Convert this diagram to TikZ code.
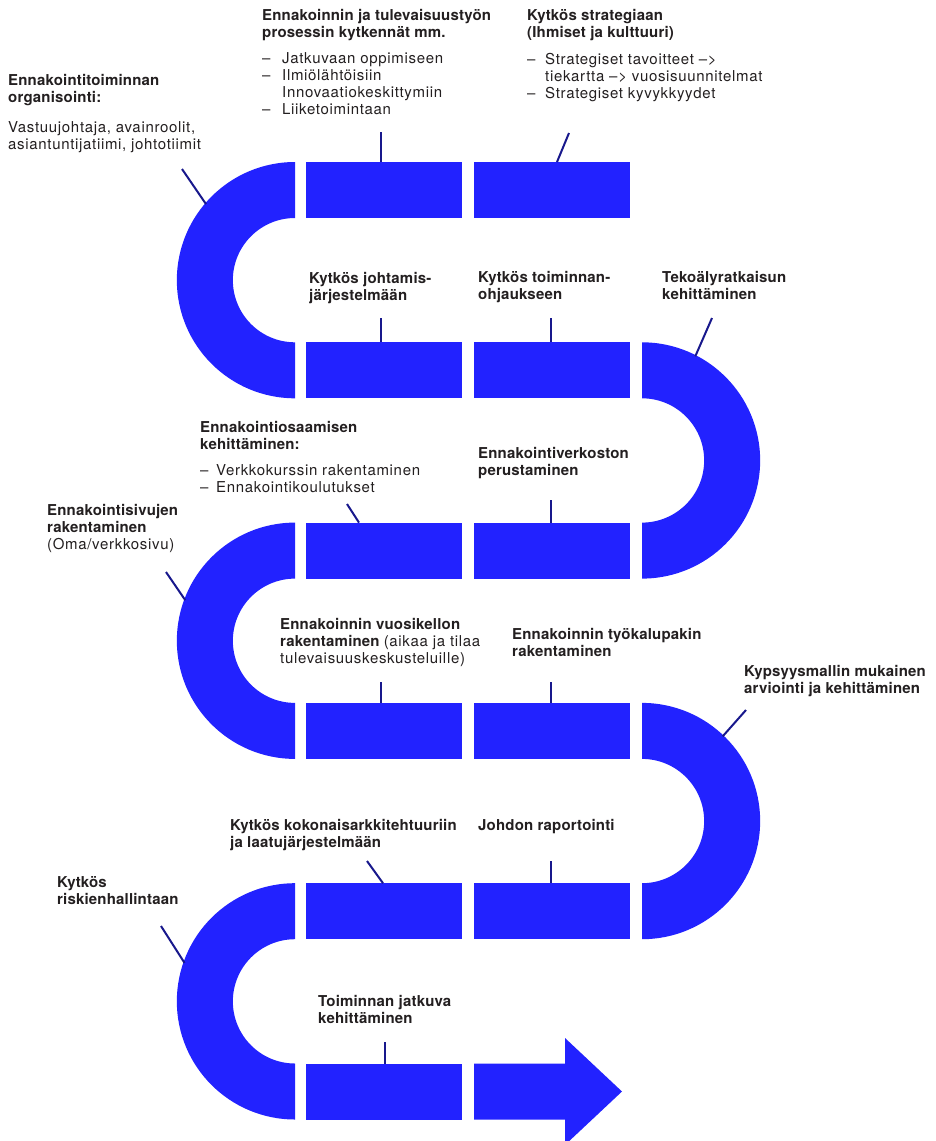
\documentclass[tikz,border=0pt]{standalone}
\usepackage{fontspec}
\usetikzlibrary{calc}
\setmainfont{TeX Gyre Heros}
\newfontfamily\headfam[LetterSpace=1.2]{TeX Gyre Heros}
\newfontfamily\bodyfam[LetterSpace=4.5]{TeX Gyre Heros}
\newcommand\hd[1]{{\fontsize{15}{17}\selectfont\headfam\bfseries #1}}
\newcommand\bd[1]{{\fontsize{15}{17}\selectfont\bodyfam #1}}
\newcommand\itm[2][18pt]{\makebox[#1][l]{–}#2}
\newcommand\fs{\rule{0pt}{12pt}}
\definecolor{bandblue}{RGB}{34,34,255}
\definecolor{tickblue}{RGB}{24,24,140}
\definecolor{ink}{RGB}{35,31,32}
\begin{document}
\begin{tikzpicture}[x=1pt,y=1pt,
  band/.style={fill=bandblue},
  seg/.style={band, draw=none, minimum width=156pt, minimum height=56pt, inner sep=0pt, outer sep=0pt, anchor=north west},
  tick/.style={draw=tickblue, line width=2pt},
  lbl/.style={anchor=north west, inner sep=0pt, align=left, text=ink, font=\fontsize{15}{17}\selectfont}]
\useasboundingbox (0,0) rectangle (936,-1141);

% centres of the five turns
\coordinate (L1c) at (295,-280.15);
\coordinate (R1c) at (642,-460.45);
\coordinate (L2c) at (295,-640.75);
\coordinate (R2c) at (642,-821.05);
\coordinate (L3c) at (295,-1001.35);

% left-hand turns
\foreach \c in {L1c,L2c,L3c}
  \fill[band] ($(\c)+(0,118.15)$) arc[start angle=90,end angle=270,radius=118.15]
    -- ++(0,56) arc[start angle=270,end angle=90,radius=62.15] -- cycle;
% right-hand turns
\foreach \c in {R1c,R2c}
  \fill[band] ($(\c)+(0,118.15)$) arc[start angle=90,end angle=-90,radius=118.15]
    -- ++(0,56) arc[start angle=-90,end angle=90,radius=62.15] -- cycle;

% straight segments
\node[seg] (s11) at (306,-162) {};
\node[seg] (s12) at (474,-162) {};
\node[seg] (s21) at (306,-342.3) {};
\node[seg] (s22) at (474,-342.3) {};
\node[seg] (s31) at (306,-522.6) {};
\node[seg] (s32) at (474,-522.6) {};
\node[seg] (s41) at (306,-702.9) {};
\node[seg] (s42) at (474,-702.9) {};
\node[seg] (s51) at (306,-883.2) {};
\node[seg] (s52) at (474,-883.2) {};
\node[seg] (s61) at (306,-1063.5) {};

% closing arrow
\fill[band] (474,-1063.5) -- (565,-1063.5) -- (565,-1038) -- (622,-1091.5)
  -- (565,-1145) -- (565,-1119.5) -- (474,-1119.5) -- cycle;

% labels
\node[lbl] (n1) at (8,-73) {\hd{\fs Ennakointitoiminnan}\\ \hd{organisointi:}\\[13pt]
  \bd{Vastuujohtaja, avainroolit,}\\ \bd{asiantuntijatiimi, johtotiimit}};
\node[lbl] (n2) at (262,-8) {\hd{\fs Ennakoinnin ja tulevaisuustyön}\\ \hd{prosessin kytkennät mm.}\\[9pt]
  \bd{\itm[20pt]{Jatkuvaan oppimiseen}}\\ \bd{\itm[20pt]{Ilmiölähtöisiin}}\\
  \bd{\hspace*{20pt}Innovaatiokeskittymiin}\\ \bd{\itm[20pt]{Liiketoimintaan}}};
\node[lbl] (n3) at (527,-8) {\hd{\fs Kytkös strategiaan}\\ \hd{(Ihmiset ja kulttuuri)}\\[10pt]
  \bd{\itm{Strategiset tavoitteet –>}}\\ \bd{\hspace*{18pt}tiekartta –> vuosisuunnitelmat}\\
  \bd{\itm{Strategiset kyvykkyydet}}};
\node[lbl] (n4) at (309,-271) {\hd{\fs Kytkös johtamis-}\\ \hd{järjestelmään}};
\node[lbl] (n5) at (478,-270) {\hd{\fs Kytkös toiminnan-}\\ \hd{ohjaukseen}};
\node[lbl] (n6) at (662,-270) {\hd{\fs Tekoälyratkaisun}\\ \hd{kehittäminen}};
\node[lbl] (n7) at (200,-420) {\hd{\fs Ennakointiosaamisen}\\ \hd{kehittäminen:}\\[9pt]
  \bd{\itm[16pt]{Verkkokurssin rakentaminen}}\\ \bd{\itm[16pt]{Ennakointikoulutukset}}};
\node[lbl] (n8) at (478,-446) {\hd{\fs Ennakointiverkoston}\\ \hd{perustaminen}};
\node[lbl] (n9) at (47,-503) {\hd{\fs Ennakointisivujen}\\ \hd{rakentaminen}\\ \bd{(Oma/verkkosivu)}};
\node[lbl] (n10) at (280,-617) {\hd{\fs Ennakoinnin vuosikellon}\\
  \hd{rakentaminen} \bd{(aikaa ja tilaa}\\ \bd{tulevaisuuskeskusteluille)}};
\node[lbl] (n11) at (512,-627) {\hd{\fs Ennakoinnin työkalupakin}\\ \hd{rakentaminen}};
\node[lbl] (n12) at (744,-664) {\hd{\fs Kypsyysmallin mukainen}\\ \hd{arviointi ja kehittäminen}};
\node[lbl] (n13) at (230,-818) {\hd{\fs Kytkös kokonaisarkkitehtuuriin}\\ \hd{ja laatujärjestelmään}};
\node[lbl] (n14) at (478,-818) {\hd{\fs Johdon raportointi}};
\node[lbl] (n15) at (57,-875) {\hd{\fs Kytkös}\\ \hd{riskienhallintaan}};
\node[lbl] (n16) at (318,-994) {\hd{\fs Toiminnan jatkuva}\\ \hd{kehittäminen}};

% leader lines
\coordinate (t1) at (182,-169);
\coordinate (t2) at (381,-132);
\coordinate (t3) at (569,-133);
\coordinate (t4) at (381,-318);
\coordinate (t5) at (551,-318);
\coordinate (t6) at (712,-318);
\coordinate (t7) at (347,-504);
\coordinate (t8) at (551,-500);
\coordinate (t9) at (166,-572);
\coordinate (t10) at (381,-682);
\coordinate (t11) at (551,-682);
\coordinate (t12) at (746,-710);
\coordinate (t13) at (367,-861);
\coordinate (t14) at (551,-861);
\coordinate (t15) at (161,-926);
\coordinate (t16) at (385,-1042);

\draw[tick] (t1) -- ($(L1c)+(139.5:117)$);
\draw[tick] (t2) -- (t2 |- s11.north);
\draw[tick] (t3) -- ($(s12.north west)+(83,0)$);
\draw[tick] (t4) -- (t4 |- s21.north);
\draw[tick] (t5) -- (t5 |- s22.north);
\draw[tick] (t6) -- ($(R1c)+(62.9:117)$);
\draw[tick] (t7) -- ($(s31.north west)+(53,0)$);
\draw[tick] (t8) -- (t8 |- s32.north);
\draw[tick] (t9) -- ($(L2c)+(159.7:117)$);
\draw[tick] (t10) -- (t10 |- s41.north);
\draw[tick] (t11) -- (t11 |- s42.north);
\draw[tick] (t12) -- ($(R2c)+(46.4:117)$);
\draw[tick] (t13) -- ($(s51.north west)+(77,0)$);
\draw[tick] (t14) -- (t14 |- s52.north);
\draw[tick] (t15) -- ($(L3c)+(160.8:117)$);
\draw[tick] (t16) -- (t16 |- s61.north);
\end{tikzpicture}
\end{document}
